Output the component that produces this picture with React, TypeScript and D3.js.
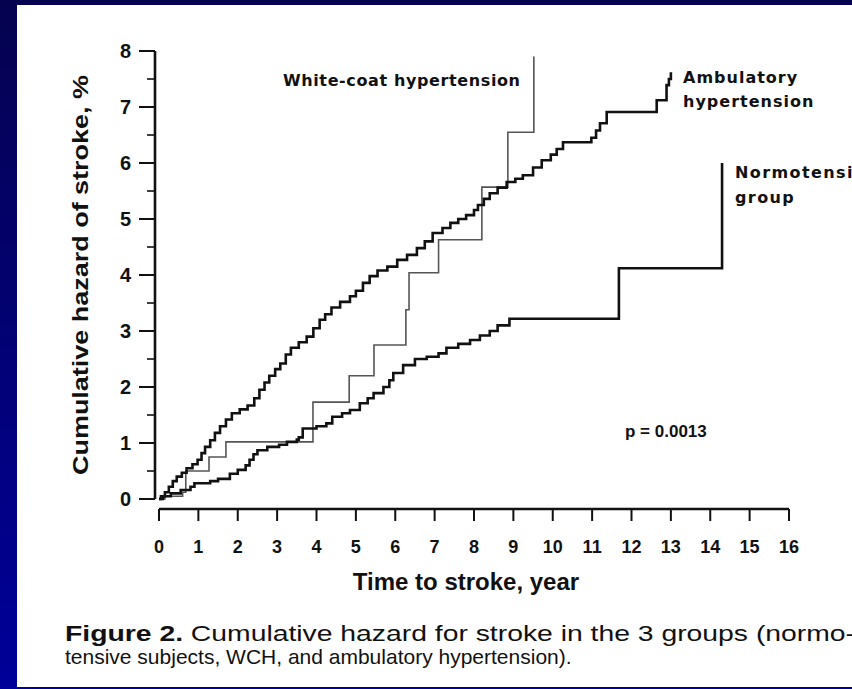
import * as d3 from 'd3'

const xTicks = d3.range(0, 17)
const yTicks = d3.range(0, 9)
const yMinor = d3.range(0.5, 8, 1)

// cumulative hazard, % — [time (years), value after the step]
const ambulatory: [number, number][] = [
  [0, 0], [0.05, 0.05], [0.15, 0.12], [0.25, 0.22], [0.35, 0.32], [0.45, 0.4], [0.58, 0.47],
  [0.7, 0.55], [0.85, 0.62], [0.98, 0.7], [1.08, 0.82], [1.17, 0.93], [1.3, 1.05], [1.42, 1.18],
  [1.55, 1.3], [1.7, 1.42], [1.85, 1.53], [2.05, 1.6], [2.25, 1.67], [2.42, 1.8], [2.55, 1.95],
  [2.68, 2.08], [2.8, 2.2], [2.95, 2.32], [3.08, 2.42], [3.22, 2.58], [3.35, 2.7], [3.55, 2.8],
  [3.75, 2.9], [3.92, 3.05], [4.08, 3.2], [4.22, 3.3], [4.38, 3.42], [4.6, 3.52], [4.85, 3.62],
  [5.0, 3.72], [5.18, 3.86], [5.35, 3.98], [5.55, 4.08], [5.8, 4.15], [6.05, 4.27], [6.3, 4.36],
  [6.55, 4.48], [6.75, 4.6], [6.95, 4.75], [7.2, 4.84], [7.4, 4.93], [7.6, 5.0], [7.8, 5.07],
  [8.0, 5.16], [8.1, 5.25], [8.25, 5.36], [8.4, 5.46], [8.6, 5.56], [8.83, 5.66], [9.05, 5.72],
  [9.24, 5.78], [9.5, 5.92], [9.72, 6.05], [9.95, 6.15], [10.1, 6.25], [10.26, 6.37], [10.98, 6.45],
  [11.1, 6.58], [11.2, 6.71], [11.37, 6.91], [12.64, 7.12], [12.89, 7.39], [12.95, 7.5], [13.0, 7.62],
]

const whiteCoat: [number, number][] = [
  [0, 0], [0.15, 0.05], [0.6, 0.12], [0.68, 0.5], [1.27, 0.75], [1.7, 1.02], [3.91, 1.73],
  [4.83, 2.2], [5.46, 2.75], [6.27, 3.38], [6.35, 4.04], [7.1, 4.63], [8.2, 5.57], [8.86, 6.55],
  [9.52, 7.9],
]

const normotensive: [number, number][] = [
  [0, 0], [0.1, 0.05], [0.3, 0.1], [0.55, 0.16], [0.8, 0.22], [0.9, 0.28], [1.3, 0.32], [1.5, 0.36],
  [1.8, 0.45], [2.0, 0.52], [2.2, 0.6], [2.3, 0.7], [2.4, 0.8], [2.5, 0.87], [2.75, 0.93],
  [3.05, 0.97], [3.25, 1.02], [3.5, 1.06], [3.55, 1.1], [3.65, 1.26], [4.0, 1.3], [4.25, 1.35],
  [4.4, 1.47], [4.65, 1.53], [4.85, 1.59], [5.1, 1.71], [5.3, 1.8], [5.45, 1.89], [5.7, 2.0],
  [5.85, 2.12], [5.95, 2.25], [6.2, 2.39], [6.5, 2.5], [6.8, 2.54], [7.1, 2.6], [7.3, 2.7],
  [7.6, 2.77], [7.9, 2.84], [8.15, 2.92], [8.4, 3.0], [8.6, 3.1], [8.9, 3.22], [11.68, 4.12],
  [14.3, 6.0],
]

const W = 852
const H = 689
const sans = '"Liberation Sans", Arial, sans-serif'
const verd = '"DejaVu Sans", Verdana, sans-serif'

export default function App() {
  const x = d3.scaleLinear().domain([0, 16]).range([159, 789])
  const y = d3.scaleLinear().domain([0, 8]).range([499, 51])
  const axisX = 155
  const axisY = 509

  const step = d3.line<[number, number]>()
    .x((d) => x(d[0]))
    .y((d) => y(d[1]))
    .curve(d3.curveStepAfter)

  return (
    <svg width={W} height={H} style={{ position: 'absolute', left: 0, top: 0, display: 'block' }}>
      <defs>
        <linearGradient id="frame" x1="0" y1="0" x2="0" y2="1">
          <stop offset="0%" stopColor="#05024f" />
          <stop offset="100%" stopColor="#00009a" />
        </linearGradient>
      </defs>
      <rect width={W} height={H} fill="url(#frame)" />
      <rect x={17} y={5} width={W - 17} height={682} fill="#fff" />

      {/* y axis */}
      <line x1={axisX} x2={axisX} y1={y(8)} y2={y(0)} stroke="#111" strokeWidth={2.6} />
      {yTicks.map((t) => (
        <g key={t}>
          <line x1={axisX - 16} x2={axisX} y1={y(t)} y2={y(t)} stroke="#111" strokeWidth={2} />
          <text x={131} y={y(t) + 7} textAnchor="end" fontFamily={sans} fontWeight="bold"
            fontSize={20} fill="#111">{t}</text>
        </g>
      ))}
      {yMinor.map((t) => (
        <line key={t} x1={axisX - 8} x2={axisX} y1={y(t)} y2={y(t)} stroke="#111" strokeWidth={1.6} />
      ))}
      <text transform={`translate(88,${(y(0) + y(8)) / 2}) rotate(-90)`} textAnchor="middle"
        fontFamily={sans} fontWeight="bold" fontSize={22} fill="#111"
        textLength={400} lengthAdjust="spacingAndGlyphs">
        Cumulative hazard of stroke, %
      </text>

      {/* x axis */}
      <line x1={x(0)} x2={x(16)} y1={axisY} y2={axisY} stroke="#111" strokeWidth={2.6} />
      {xTicks.map((t) => (
        <g key={t}>
          <line x1={x(t)} x2={x(t)} y1={axisY} y2={axisY + 12} stroke="#111" strokeWidth={2} />
          <text x={x(t)} y={axisY + 44} textAnchor="middle" fontFamily={sans} fontWeight="bold"
            fontSize={18} fill="#111">{t}</text>
        </g>
      ))}
      <text x={466} y={590} textAnchor="middle" fontFamily={sans} fontWeight="bold" fontSize={24}
        fill="#111">Time to stroke, year</text>

      {/* curves */}
      <path d={step(whiteCoat) ?? ''} fill="none" stroke="#555" strokeWidth={1.6} />
      <path d={step(normotensive) ?? ''} fill="none" stroke="#111" strokeWidth={2.6} />
      <path d={step(ambulatory) ?? ''} fill="none" stroke="#111" strokeWidth={2.6} />

      {/* labels */}
      <g fontFamily={verd} fontWeight="bold" fontSize={16} fill="#111">
        <text x={283} y={86} textLength={237} lengthAdjust="spacing">White-coat hypertension</text>
        <text x={683} y={83} letterSpacing={1}>Ambulatory</text>
        <text x={683} y={107} letterSpacing={1}>hypertension</text>
        <text x={735} y={178} letterSpacing={1.4}>Normotensive</text>
        <text x={735} y={203} letterSpacing={1.4}>group</text>
      </g>
      <text x={625} y={437} fontFamily={sans} fontWeight="bold" fontSize={17} fill="#111">p = 0.0013</text>

      {/* caption */}
      <text x={65} y={641} fontFamily={sans} fontSize={22} fill="#111"
        textLength={790} lengthAdjust="spacingAndGlyphs">
        <tspan fontWeight="bold">Figure 2.</tspan> Cumulative hazard for stroke in the 3 groups (normo-
      </text>
      <text x={65} y={664} fontFamily={sans} fontSize={21} fill="#111">
        tensive subjects, WCH, and ambulatory hypertension).
      </text>
    </svg>
  )
}
